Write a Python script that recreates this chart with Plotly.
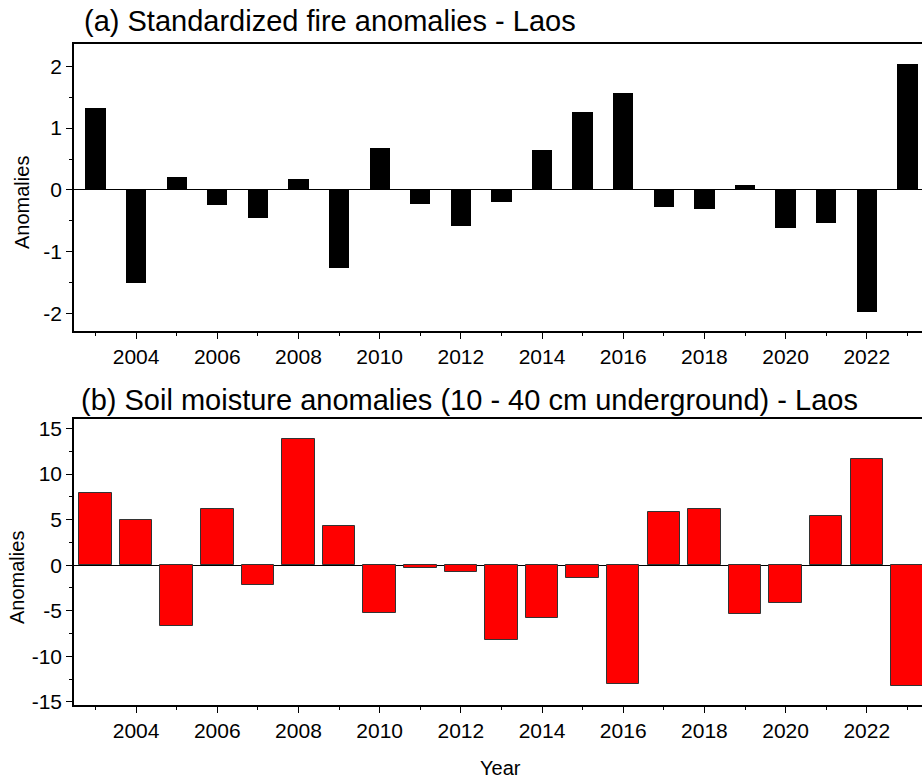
import plotly.graph_objects as go

# --- data ---
years = list(range(2003, 2024))
fire_anom = [1.32, -1.50, 0.21, -0.25, -0.46, 0.17, -1.26, 0.68, -0.22, -0.59, -0.19,
             0.65, 1.26, 1.56, -0.27, -0.30, 0.08, -0.62, -0.53, -1.98, 2.03]
soil_anom = [7.9, 5.0, -6.65, 6.15, -2.15, 13.9, 4.3, -5.3, -0.35, -0.8, -8.25,
             -5.75, -1.4, -13.0, 5.8, 6.15, -5.4, -4.1, 5.45, 11.65, -13.25]

x_tickvals = list(range(2004, 2023, 2))
x_minor = list(range(2003, 2024, 2))
fire_tickvals = [-2, -1, 0, 1, 2]
fire_ticktext = ['-2', '-1', '0', '1', '2']
soil_tickvals = [-15, -10, -5, 0, 5, 10, 15]
soil_ticktext = ['-15', '-10', '-5', '0', '5', '10', '15']

title_a = "(a) Standardized fire anomalies - Laos"
title_b = "(b) Soil moisture anomalies (10 - 40 cm underground) - Laos"

FONT = "Liberation Sans, Arial, sans-serif"
W, H = 922, 782
ML, MT, MB = 74, 44, 77

fig = go.Figure()

#--- bars
fig.add_trace(go.Bar(
    x=years, y=fire_anom, width=0.5,
    marker=dict(color="black", line=dict(width=0)),
    xaxis="x", yaxis="y",
))
fig.add_trace(go.Bar(
    x=years, y=soil_anom, width=0.8,
    marker=dict(color="#ff0000", line=dict(color="#333333", width=1)),
    xaxis="x2", yaxis="y2",
))

#--- axes
xopts = dict(
    range=[2002.47, 2023.36],
    tickvals=x_tickvals,
    ticks="outside", ticklen=6, tickwidth=1, tickcolor="black",
    minor=dict(tickvals=x_minor, ticks="outside", ticklen=3, tickcolor="black"),
    showline=True, linecolor="black", linewidth=1.5, mirror=True,
    showgrid=False, zeroline=False,
    tickfont=dict(size=21, color="black", family=FONT),
)
yopts = dict(
    ticks="outside", ticklen=6, tickwidth=1, tickcolor="black",
    showline=True, linecolor="black", linewidth=1.5,
    showgrid=False, zeroline=True, zerolinecolor="black", zerolinewidth=1,
    tickfont=dict(size=21, color="black", family=FONT),
)

plot_h = H - MT - MB
top_lo = (H - MB - 331) / plot_h
bot_hi = (H - MB - 419) / plot_h

fig.update_layout(
    xaxis=dict(xopts, anchor="y"),
    yaxis=dict(yopts, domain=[top_lo, 1], range=[-2.28, 2.36],
               tickvals=fire_tickvals, ticktext=fire_ticktext,
               minor=dict(dtick=0.5, ticks="outside", ticklen=3, tickcolor="black")),
    xaxis2=dict(xopts, anchor="y2"),
    yaxis2=dict(yopts, domain=[0, bot_hi], range=[-15.35, 16.05],
                tickvals=soil_tickvals, ticktext=soil_ticktext,
                minor=dict(dtick=2.5, ticks="outside", ticklen=3, tickcolor="black")),
)

#--- titles as annotations (pixel placed)
def px_to_paper(xp, yp):
    return (xp - ML) / (W - ML), (H - MB - yp) / plot_h

notes = [
    (82, 21, title_a, 0, 29, "left"),
    (79, 400, title_b, 0, 29, "left"),
    (22, 203, "Anomalies", -90, 20, "center"),
    (17, 578, "Anomalies", -90, 20, "center"),
    (500, 768, "Year", 0, 20, "center"),
]
for xp, yp, txt, ang, sz, xa in notes:
    xx, yy = px_to_paper(xp, yp)
    fig.add_annotation(
        x=xx, y=yy, xref="paper", yref="paper", text=txt, showarrow=False,
        textangle=ang, xanchor=xa, yanchor="middle",
        font=dict(size=sz, color="black", family=FONT),
    )

fig.update_layout(
    width=W, height=H,
    margin=dict(l=ML, r=0, t=MT, b=MB),
    plot_bgcolor="white", paper_bgcolor="white",
    showlegend=False, bargap=0,
    font=dict(family=FONT, color="black"),
)

# page body has a default margin; drop it so the figure sits at (0, 0)
fig.write_html("out.html", config={"displayModeBar": False},
               post_script="document.body.style.margin='0px';document.body.style.overflow='hidden';")
